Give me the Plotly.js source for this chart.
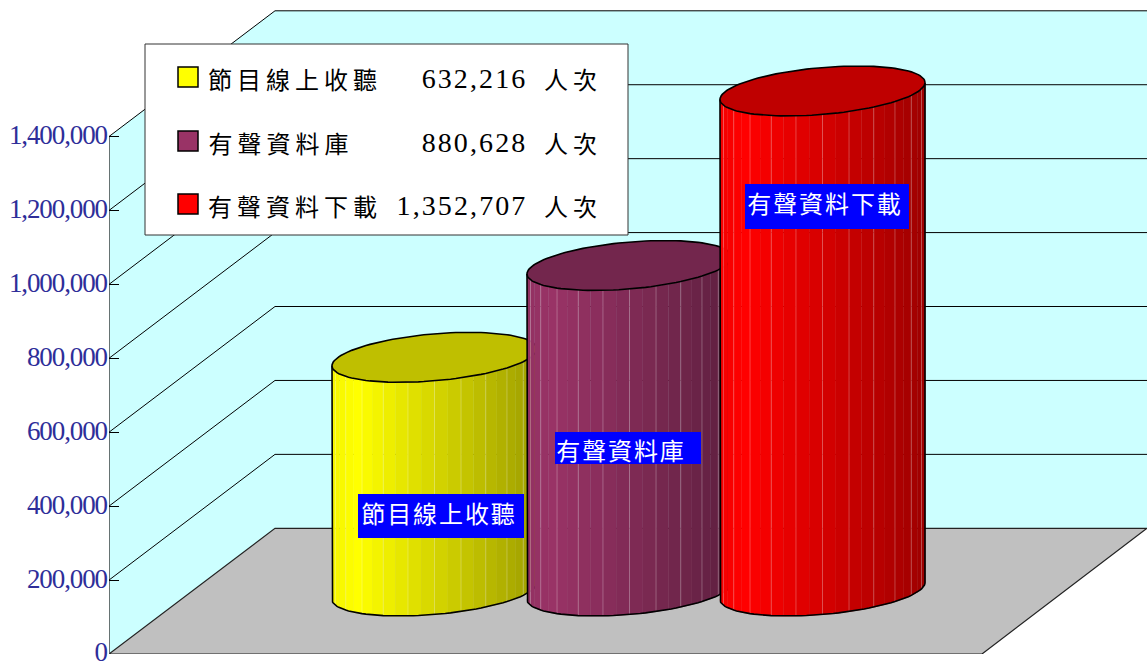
<!DOCTYPE html>
<html>
<head>
<meta charset="utf-8">
<script src="https://cdn.plot.ly/plotly-3.0.1.min.js"></script>
<style>
html,body{margin:0;padding:0;background:#fff;overflow:hidden}
#chart{width:1147px;height:664px}
.ytick text{letter-spacing:-1.1px}
.annotation[data-index="0"] text,.annotation[data-index="1"] text,.annotation[data-index="2"] text{letter-spacing:1.9px}
.annotation[data-index="3"] text,.annotation[data-index="4"] text,.annotation[data-index="5"] text{letter-spacing:5px}
.annotation[data-index="6"] text,.annotation[data-index="7"] text,.annotation[data-index="8"] text{letter-spacing:2.1px}
.annotation[data-index="9"] text,.annotation[data-index="10"] text,.annotation[data-index="11"] text{letter-spacing:5px}
</style>
</head>
<body>
<div id="chart"></div>
<script>
// ---- chart data ----
const categories = ['節目線上收聽', '有聲資料庫', '有聲資料下載'];
const values = [632216, 880628, 1352707];
const valueLabels = ['632,216', '880,628', '1,352,707'];
const unitLabel = '人次';
const tickValues = [0, 200000, 400000, 600000, 800000, 1000000, 1200000, 1400000];
const tickLabels = ['0', '200,000', '400,000', '600,000', '800,000', '1,000,000', '1,200,000', '1,400,000'];
const seriesColors = [[255, 255, 0], [153, 51, 102], [255, 0, 0]];

// ---- layout geometry (pixels of the 1147x664 page) ----
const W = 1147, H = 664, AXIS_X = 109, ZERO_Y = 654;
const PX_PER_UNIT = 517.5 / 1400000;
const DEPTH_X = 166, DEPTH_Y = 125.7;
const FRONT_RIGHT = 982;
const cylCenters = [434.5, 629.5, 822.5];
const cylRadii = [102.5, 102.5, 102.5];
const CYL_BASE_Y = 591, CYL_RY = 23.5, CYL_TILT = 8.5;
const STRIPS = 24;
const labelBoxes = [[358, 524, 494, 538], [555, 701, 432, 464], [745, 909, 184, 229]];
const labelTextX = [360, 555, 746];
const labelTextY = [512, 449, 202];
const legendBox = [145, 628, 44, 235];
const legendRows = [78, 142, 205];

const yPx = py => (ZERO_Y - py) / PX_PER_UNIT;
const lenY = px => px / PX_PER_UNIT;
const rgb = (c, f) => `rgb(${c.map(v => Math.round(v * f)).join(',')})`;

function shade(u) {
  if (u < -0.75) return 1 - 0.04 * (-0.75 - u) / 0.25;
  return 1 - 0.38 * (u + 0.75) / 1.75;
}

function arc(i, val, t0, t1, n) {
  const xs = [], ys = [];
  const base = lenY(ZERO_Y - CYL_BASE_Y) + val;
  for (let k = 0; k <= n; k++) {
    const t = t0 + (t1 - t0) * k / n;
    xs.push(cylCenters[i] + cylRadii[i] * Math.cos(t));
    ys.push(base + lenY(CYL_TILT * Math.cos(t) - CYL_RY * Math.sin(t)));
  }
  return [xs, ys];
}

const traces = [];
values.forEach((v, i) => {
  const col = seriesColors[i];
  // body strips
  for (let s = 0; s < STRIPS; s++) {
    const t0 = Math.PI - Math.PI * s / STRIPS, t1 = Math.PI - Math.PI * (s + 1) / STRIPS;
    const [bx, by] = arc(i, 0, t0, t1, 4);
    const [tx, ty] = arc(i, v, t1, t0, 4);
    const um = Math.cos((t0 + t1) / 2);
    traces.push({
      type: 'scatter', mode: 'lines', x: bx.concat(tx), y: by.concat(ty),
      fill: 'toself', fillcolor: rgb(col, shade(um)),
      line: {width: 0.6, color: rgb(col, shade(um))}, hoverinfo: 'skip', showlegend: false
    });
  }
  // lighter facet seams
  const sx = [], sy = [];
  for (let s = 2; s < STRIPS; s += 2) {
    const t = Math.PI - Math.PI * s / STRIPS;
    const [bx, by] = arc(i, 0, t, t, 1);
    const [tx, ty] = arc(i, v, t, t, 1);
    sx.push(bx[0], tx[0], null);
    sy.push(by[0], ty[0], null);
  }
  traces.push({
    type: 'scatter', mode: 'lines', x: sx, y: sy,
    line: {width: 1, color: 'rgba(255,255,255,0.25)'}, hoverinfo: 'skip', showlegend: false
  });
  // outline: left side, bottom front arc, right side
  const [ax, ay] = arc(i, 0, Math.PI, 0, 60);
  const [lx, ly] = arc(i, v, Math.PI, Math.PI, 1);
  const [rx, ry] = arc(i, v, 0, 0, 1);
  traces.push({
    type: 'scatter', mode: 'lines',
    x: [lx[0]].concat(ax, [rx[0]]), y: [ly[0]].concat(ay, [ry[0]]),
    line: {width: 1.6, color: '#000'}, hoverinfo: 'skip', showlegend: false
  });
  // top ellipse
  const [ex, ey] = arc(i, v, 0, 2 * Math.PI, 120);
  traces.push({
    type: 'scatter', mode: 'lines', x: ex, y: ey, fill: 'toself', fillcolor: rgb(col, 0.75),
    line: {width: 1.6, color: '#000'}, name: categories[i], hoverinfo: 'skip', showlegend: false
  });
});

// ---- walls, floor, gridlines ----
const wallTop = 1400000;
const bx = AXIS_X + DEPTH_X, dy = lenY(DEPTH_Y);
const poly = pts => 'M' + pts.map(p => p.join(',')).join('L') + 'Z';
const shapes = [
  {type: 'path', path: poly([[AXIS_X, 0], [bx, dy], [bx, wallTop + dy], [AXIS_X, wallTop]]), fillcolor: '#ccffff', line: {width: 0}, layer: 'below'},
  {type: 'rect', x0: bx, x1: W, y0: dy, y1: wallTop + dy, fillcolor: '#ccffff', line: {width: 0}, layer: 'below'},
  {type: 'path', path: poly([[AXIS_X, 0], [bx, dy], [W, dy], [FRONT_RIGHT, 0]]), fillcolor: '#c0c0c0', line: {width: 1.2, color: '#222'}, layer: 'below'},
  {type: 'line', x0: AXIS_X, x1: AXIS_X, y0: 0, y1: 1400000, line: {width: 1.5, color: '#444'}, layer: 'below'}
];
tickValues.slice(1).forEach(t => {
  shapes.push({type: 'line', x0: AXIS_X, x1: bx, y0: t, y1: t + dy, line: {width: 1, color: '#000'}, layer: 'below'});
  shapes.push({type: 'line', x0: bx, x1: W, y0: t + dy, y1: t + dy, line: {width: 1, color: '#000'}, layer: 'below'});
});

// ---- data label boxes ----
labelBoxes.forEach(b => shapes.push({type: 'rect', x0: b[0], x1: b[1], y0: yPx(b[3]), y1: yPx(b[2]), fillcolor: '#0000ff', line: {width: 0}, layer: 'above'}));

// ---- legend box and swatches ----
shapes.push({type: 'rect', x0: legendBox[0], x1: legendBox[1], y0: yPx(legendBox[3]), y1: yPx(legendBox[2]), fillcolor: '#fff', line: {width: 1, color: '#333'}, layer: 'above'});
legendRows.forEach((r, i) => {
  shapes.push({type: 'rect', x0: 178, x1: 198, y0: yPx(r + 9), y1: yPx(r - 11), fillcolor: rgb(seriesColors[i], 1), line: {width: 1.5, color: '#000'}, layer: 'above'});
});

// ---- text (letter-spacing from the stylesheet widens text around its measured centre) ----
const CJK = '"Noto Sans CJK TC","Noto Sans CJK SC",sans-serif';
const SERIF = '"Liberation Serif",serif';
const annotations = [];
const anno = (x, py, text, anchor, family, size, color) => annotations.push({
  xref: 'x', yref: 'y', x, y: yPx(py), text, showarrow: false, xanchor: anchor, yanchor: 'middle',
  borderpad: 0, font: {family, size, color}
});
categories.forEach((c, i) => anno(labelTextX[i] + c.length * 1.9 / 2, labelTextY[i], c, 'left', CJK, 24, '#fff'));
categories.forEach((c, i) => anno(207 + c.length * 5 / 2, legendRows[i], c, 'left', CJK, 24, '#000'));
valueLabels.forEach((c, i) => anno(528 - c.length * 2.1 / 2, legendRows[i], c, 'right', SERIF, 28, '#000'));
valueLabels.forEach((c, i) => anno(543 + unitLabel.length * 5 / 2, legendRows[i], unitLabel, 'left', CJK, 24, '#000'));

const layout = {
  width: W, height: H, autosize: false, showlegend: false,
  margin: {l: AXIS_X, r: 0, t: 0, b: H - ZERO_Y, pad: 0},
  paper_bgcolor: '#fff', plot_bgcolor: '#fff',
  xaxis: {range: [AXIS_X, W], visible: false, fixedrange: true},
  yaxis: {
    range: [0, ZERO_Y / PX_PER_UNIT], tickmode: 'array', tickvals: tickValues, ticktext: tickLabels,
    ticks: 'inside', ticklen: 10, tickwidth: 1, tickcolor: '#000', showgrid: false, zeroline: false,
    showline: false, fixedrange: true, ticklabelstandoff: 1, ticklabeloverflow: 'allow', ticklabelshift: -2,
    tickfont: {family: SERIF, size: 27, color: '#2e2e99'}
  },
  shapes, annotations
};
Plotly.newPlot('chart', traces, layout, {displayModeBar: false, staticPlot: true});
</script>
</body>
</html>
